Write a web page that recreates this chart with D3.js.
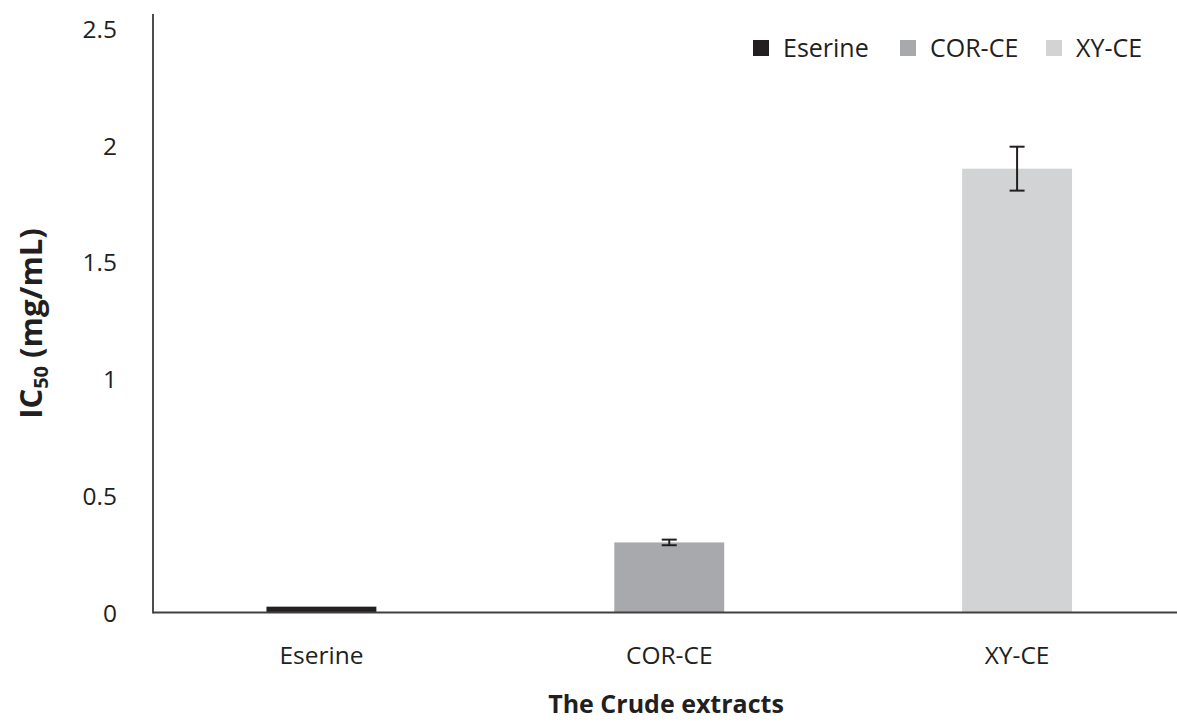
<!DOCTYPE html>
<html>
<head>
<meta charset="utf-8">
<script src="https://cdn.jsdelivr.net/npm/d3@7"></script>
<style>
  html, body { margin: 0; padding: 0; background: #fff; }
  svg { display: block; font-family: "Open Sans", Lato, sans-serif; }
</style>
</head>
<body>
<svg id="chart" width="1177" height="722"></svg>
<script>
// IC50 of eserine and the crude extracts
const categories = ["Eserine", "COR-CE", "XY-CE"];
const ic50Values = [0.025, 0.30, 1.90];
const ic50Errors = [0.0, 0.012, 0.094];
const barColors = ["#231f20", "#a7a9ac", "#d1d3d4"];
const yTicks = [0, 0.5, 1, 1.5, 2, 2.5];

const svg = d3.select("#chart");
const FONT = "'Open Sans', Lato, sans-serif";
const INK = "#231f20";

const plot = { left: 153, right: 1177, top: 14, bottom: 612.5 };

const y = d3.scaleLinear().domain([0, 2.5]).range([plot.bottom, 28.5]);
const x = d3.scaleBand()
  .domain(categories)
  .range([147.5, 1191])
  .paddingInner(0.684)
  .paddingOuter(0.342);

// bars
svg.append("g").selectAll("rect")
  .data(categories)
  .join("rect")
  .attr("x", d => x(d))
  .attr("width", x.bandwidth())
  .attr("y", (d, i) => y(ic50Values[i]))
  .attr("height", (d, i) => y(0) - y(ic50Values[i]))
  .attr("fill", (d, i) => barColors[i]);

// error bars
const capHalf = 7.5;
const err = svg.append("g").attr("stroke", INK).attr("stroke-width", 2);
categories.forEach((c, i) => {
  if (!ic50Errors[i]) return;
  const cx = x(c) + x.bandwidth() / 2;
  const hi = y(ic50Values[i] + ic50Errors[i]);
  const lo = y(ic50Values[i] - ic50Errors[i]);
  err.append("line").attr("x1", cx).attr("x2", cx).attr("y1", hi).attr("y2", lo);
  err.append("line").attr("x1", cx - capHalf).attr("x2", cx + capHalf).attr("y1", hi).attr("y2", hi);
  err.append("line").attr("x1", cx - capHalf).attr("x2", cx + capHalf).attr("y1", lo).attr("y2", lo);
});

// y axis: labels only, plus a plain line
const yAxis = d3.axisLeft(y).tickValues(yTicks).tickSize(0).tickPadding(0)
  .tickFormat(d3.format("~g"));
const yg = svg.append("g").attr("transform", "translate(117,0)").call(yAxis);
yg.select(".domain").remove();
yg.selectAll("text")
  .attr("font-family", FONT)
  .attr("font-size", 24.5)
  .attr("fill", INK)
  .attr("dy", "0.36em");

svg.append("line")
  .attr("x1", plot.left).attr("x2", plot.left)
  .attr("y1", plot.top).attr("y2", plot.bottom + 1)
  .attr("stroke", INK).attr("stroke-width", 1.6);

// x axis
const xAxis = d3.axisBottom(x).tickSize(0).tickPadding(0);
const xg = svg.append("g").attr("transform", `translate(0,${plot.bottom})`).call(xAxis);
xg.select(".domain").remove();
xg.selectAll("text")
  .attr("font-family", FONT)
  .attr("font-size", 24.5)
  .attr("fill", INK)
  .attr("y", 42.5)
  .attr("dy", "0.36em");

svg.append("line")
  .attr("x1", plot.left).attr("x2", plot.right)
  .attr("y1", plot.bottom).attr("y2", plot.bottom)
  .attr("stroke", "#404040").attr("stroke-width", 2);

// axis titles
svg.append("text")
  .attr("x", 666).attr("y", 713)
  .attr("text-anchor", "middle")
  .attr("font-size", 25).attr("font-weight", "bold")
  .attr("fill", INK)
  .text("The Crude extracts");

const yTitle = svg.append("text")
  .attr("transform", "translate(42,323.5) rotate(-90)")
  .attr("text-anchor", "middle")
  .attr("font-size", 31).attr("font-weight", "bold")
  .attr("fill", INK);
yTitle.append("tspan").text("IC");
yTitle.append("tspan").attr("font-size", 20).attr("dy", 6).text("50");
yTitle.append("tspan").attr("dy", -6).text(" (mg/mL)");

// legend
const legendX = [753, 900, 1046];
const lg = svg.append("g").selectAll("g")
  .data(categories)
  .join("g")
  .attr("transform", (d, i) => `translate(${legendX[i]},40)`);
lg.append("rect").attr("width", 16).attr("height", 16)
  .attr("fill", (d, i) => barColors[i]);
lg.append("text").attr("x", 30).attr("y", 8).attr("dy", "0.36em")
  .attr("font-size", 25).attr("fill", INK)
  .text(d => d);
</script>
</body>
</html>
